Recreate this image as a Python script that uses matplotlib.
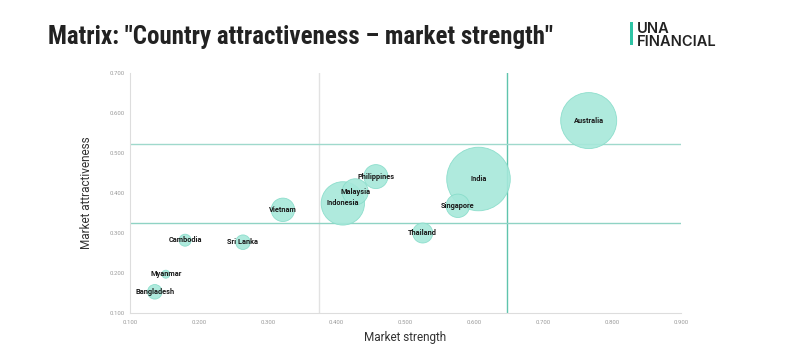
import matplotlib
matplotlib.use("Agg")
import matplotlib.pyplot as plt
from matplotlib.patches import Rectangle
from matplotlib import font_manager

# ---- data ----
countries = ['Australia', 'India', 'Indonesia', 'Malaysia', 'Philippines', 'Singapore',
             'Thailand', 'Vietnam', 'Sri Lanka', 'Cambodia', 'Myanmar', 'Bangladesh']
market_strength = [0.766, 0.606, 0.409, 0.427, 0.457, 0.576,
                   0.525, 0.322, 0.264, 0.180, 0.152, 0.136]
market_attractiveness = [0.581, 0.435, 0.374, 0.403, 0.441, 0.368,
                         0.300, 0.358, 0.277, 0.282, 0.197, 0.153]
bubble_weight = [784, 1010, 470, 170, 144, 137, 100, 137, 53, 36, 16, 53]

x_ticks = [0.1, 0.2, 0.3, 0.4, 0.5, 0.6, 0.7, 0.8, 0.9]
y_ticks = [0.1, 0.2, 0.3, 0.4, 0.5, 0.6, 0.7]
avg_strength = 0.375
threshold_strength = 0.647
threshold_attract_high = 0.523
threshold_attract_low = 0.325

title = 'Matrix: "Country attractiveness \u2013 market strength"'
logo_text = 'UNA\nFINANCIAL'


def pick_family(cands):
    names = {f.name for f in font_manager.fontManager.ttflist}
    for c in cands:
        if c in names:
            return c
    return 'DejaVu Sans'


title_family = pick_family(['Roboto Condensed', 'Liberation Sans Narrow', 'Arial Narrow',
                            'DejaVu Sans Condensed', 'Roboto'])

# ---- figure ----
W, H = 800, 356
fig = plt.figure(figsize=(W / 100, H / 100), dpi=100)
fig.patch.set_facecolor('white')

ax_left, ax_right, ax_top, ax_bottom = 130, 681, 73, 313
ax = fig.add_axes([ax_left / W, 1 - ax_bottom / H, (ax_right - ax_left) / W, (ax_bottom - ax_top) / H])
ax.set_xlim(0.1, 0.9)
ax.set_ylim(0.1, 0.7)

# reference lines
ax.axvline(avg_strength, color='#e2e2e2', lw=1.0, zorder=1)
ax.axvline(threshold_strength, color='#5fc4ad', lw=1.0, zorder=1)
ax.axhline(threshold_attract_high, color='#9fd9cc', lw=1.0, zorder=1)
ax.axhline(threshold_attract_low, color='#8fd3c4', lw=1.0, zorder=1)

sizes = [2.0736 * w for w in bubble_weight]
ax.scatter(market_strength, market_attractiveness, s=sizes, c='#a6e8da',
           edgecolors='#86dcc9', linewidths=0.6, alpha=0.9, zorder=3)

for name, x, y in zip(countries, market_strength, market_attractiveness):
    ax.text(x, y, name, ha='center', va='center', fontsize=5.3, fontweight='bold',
            family=['Roboto', 'DejaVu Sans'], color='#1a1a1a', zorder=4)

ax.set_xticks(x_ticks)
ax.set_yticks(y_ticks)
ax.set_xticklabels([f'{v:.3f}' for v in x_ticks])
ax.set_yticklabels([f'{v:.3f}' for v in y_ticks])
ax.tick_params(axis='both', length=0, labelsize=4.3, labelcolor='#9a9a9a')
ax.tick_params(axis='x', pad=5)
ax.tick_params(axis='y', pad=4)
for lab in ax.get_xticklabels() + ax.get_yticklabels():
    lab.set_family(['Roboto', 'DejaVu Sans'])

for side in ['top', 'right']:
    ax.spines[side].set_visible(False)
for side in ['left', 'bottom']:
    ax.spines[side].set_color('#dddddd')
    ax.spines[side].set_linewidth(0.8)

ax.set_xlabel('Market strength', fontsize=8.5, color='#333333', family=['Roboto', 'DejaVu Sans'])
ax.set_ylabel('Market attractiveness', fontsize=8.5, color='#333333', family=['Roboto', 'DejaVu Sans'])
ax.xaxis.set_label_coords(0.5, (ax_bottom - 331) / (ax_bottom - ax_top))
ax.yaxis.set_label_coords((93 - ax_left) / (ax_right - ax_left), 0.5)

# title, sized to span the same width as in the reference
t = fig.text(48 / W, 1 - 44 / H, title, ha='left', va='baseline', fontsize=16.5,
             fontweight='bold', family=[title_family, 'DejaVu Sans'], color='#222222')
fig.canvas.draw()
w_px = t.get_window_extent(renderer=fig.canvas.get_renderer()).width
t.set_fontsize(min(18.0, 16.5 * 552.0 / w_px))

# logo
fig.patches.append(Rectangle((630 / W, 1 - 45 / H), 3 / W, 23 / H, transform=fig.transFigure,
                             facecolor='#2ec4a5', edgecolor='none'))
fig.text(637 / W, 1 - 46 / H, logo_text, ha='left', va='baseline', fontsize=10.5,
         linespacing=0.95, fontweight='semibold', family=['Inter', 'DejaVu Sans'],
         color='#222222')

fig.savefig('out.png', dpi=100, facecolor='white')
